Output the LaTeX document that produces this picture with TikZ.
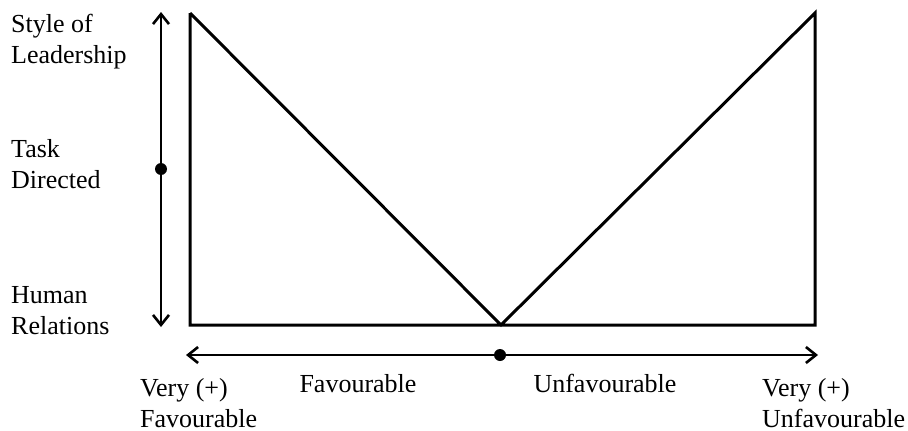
\documentclass[tikz,border=0pt]{standalone}
\usepackage{fontspec}
\setmainfont{Liberation Serif}
\usetikzlibrary{arrows.meta}

\begin{document}
\begin{tikzpicture}[
  x=1pt, y=-1pt,
  lbl/.style   = {font=\fontsize{26}{31}\selectfont, inner sep=0pt,
                  align=left, anchor=base west},
  mid/.style   = {font=\fontsize{26}{31}\selectfont, inner sep=0pt,
                  anchor=base},
  frame/.style = {line width=3pt, line join=miter},
  axis/.style  = {line width=2.6pt,
                  {Straight Barb[length=10pt,width=16pt,line width=2.6pt]}-{Straight Barb[length=10pt,width=16pt,line width=2.6pt]}},
  dot/.style   = {circle, fill, inner sep=0pt, minimum size=12pt},
]
  \useasboundingbox (0,0) rectangle (908,431);

  % corners of the style curve
  \coordinate (tl) at (190,13);
  \coordinate (bl) at (190,325);
  \coordinate (v)  at (501,325);
  \coordinate (br) at (815,325);
  \coordinate (tr) at (815,13);

  \draw[frame] (tl) -- (bl) -- (br) -- (tr) -- (v) -- (tl);

  % leadership axis
  \coordinate (up)   at (161,12);
  \coordinate (down) at (161,327);
  \node[dot] (task) at (161,169) {};
  \draw[axis] (up) -- (down);

  % situation axis
  \coordinate (left)  at (186,355);
  \coordinate (right) at (818,355);
  \node[dot] (centre) at (500,355) {};
  \draw[axis] (left) -- (right);

  \node[lbl] (style) at (11,63)  {Style of\\Leadership};
  \node[lbl] (tdir)  at (11,188) {Task\\Directed};
  \node[lbl] (human) at (11,334) {Human\\Relations};

  \node[lbl] (vfav)  at (140,427) {Very (+)\\Favourable};
  \node[mid] (fav)   at (358,392) {Favourable};
  \node[mid] (unfav) at (605,392) {Unfavourable};
  \node[lbl] (vunf)  at (762,427) {Very (+)\\Unfavourable};
\end{tikzpicture}
\end{document}
